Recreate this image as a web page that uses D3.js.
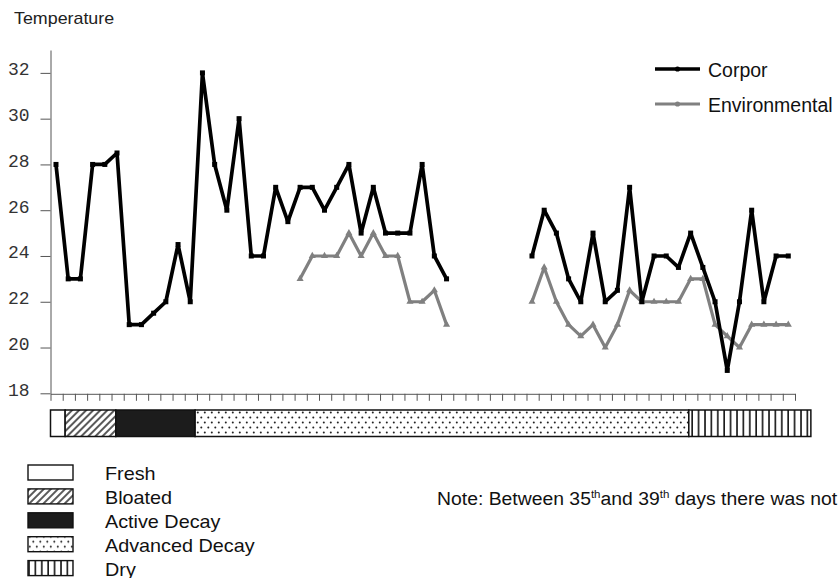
<!DOCTYPE html>
<html>
<head>
<meta charset="utf-8">
<script src="https://cdn.jsdelivr.net/npm/d3@7"></script>
<style>
  body { margin: 0; background: #fff; }
  svg { display: block; }
</style>
</head>
<body>
<div id="chart"></div>
<script>
// Data
const days = d3.range(0, 61)
const corpor = [28, 23, 23, 28, 28, 28.5, 21, 21, 21.5, 22, 24.5, 22, 32, 28, 26, 30, 24, 24, 27, 25.5,
  27, 27, 26, 27, 28, 25, 27, 25, 25, 25, 28, 24, 23,
  null, null, null, null, null, null,
  24, 26, 25, 23, 22, 25, 22, 22.5, 27, 22, 24, 24, 23.5, 25, 23.5, 22, 19, 22, 26, 22, 24, 24]
const environmental = [null, null, null, null, null, null, null, null, null, null,
  null, null, null, null, null, null, null, null, null, null,
  23, 24, 24, 24, 25, 24, 25, 24, 24, 22, 22, 22.5, 21,
  null, null, null, null, null, null,
  22, 23.5, 22, 21, 20.5, 21, 20, 21, 22.5, 22, 22, 22, 22, 23, 23, 21, 20.5, 20, 21, 21, 21, 21]
const yTicks = [18, 20, 22, 24, 26, 28, 30, 32]
const stageNames = ['Fresh', 'Bloated', 'Active Decay', 'Advanced Decay', 'Dry']
const stageStart = [0, 1.2, 5.35, 11.85, 52.3]
const stageEnd = [1.2, 5.35, 11.85, 52.3, 62.3]
const stageFill = ['#fff', 'url(#hatch)', '#1c1c1c', 'url(#dots)', 'url(#vlines)']

const width = 840, height = 578

const svg = d3.select('#chart').append('svg')
  .attr('width', width)
  .attr('height', height)

// patterns
const defs = svg.append('defs')
defs.append('pattern')
  .attr('id', 'hatch')
  .attr('patternUnits', 'userSpaceOnUse')
  .attr('width', 5).attr('height', 5)
  .attr('patternTransform', 'rotate(45)')
  .call(p => p.append('rect').attr('width', 5).attr('height', 5).attr('fill', '#fff'))
  .append('line')
  .attr('x1', 1).attr('x2', 1).attr('y1', 0).attr('y2', 5)
  .attr('stroke', '#222').attr('stroke-width', 1.5)

const dots = defs.append('pattern')
  .attr('id', 'dots')
  .attr('patternUnits', 'userSpaceOnUse')
  .attr('width', 7).attr('height', 10)
dots.append('rect').attr('width', 7).attr('height', 10).attr('fill', '#fff')
dots.append('circle').attr('cx', 1.8).attr('cy', 2.5).attr('r', 1).attr('fill', '#222')
dots.append('circle').attr('cx', 5.3).attr('cy', 7.5).attr('r', 1).attr('fill', '#222')

const vl = defs.append('pattern')
  .attr('id', 'vlines')
  .attr('patternUnits', 'userSpaceOnUse')
  .attr('width', 6.4).attr('height', 10)
vl.append('rect').attr('width', 6.4).attr('height', 10).attr('fill', '#fff')
vl.append('line').attr('x1', 1).attr('x2', 1).attr('y1', 0).attr('y2', 10)
  .attr('stroke', '#111').attr('stroke-width', 1.6)

// scales
const x = d3.scaleLinear().domain([0, 61]).range([50.5, 795])
const y = d3.scaleLinear().domain([18, 33]).range([393.3, 50])
const px = i => x(i + 0.45)

// title
svg.append('text')
  .attr('transform', 'translate(14,24) scale(1.05,1)')
  .attr('font-family', 'Liberation Sans, Arial, sans-serif')
  .attr('font-size', 17)
  .attr('fill', '#222')
  .text('Temperature')

// y axis
const yAxis = svg.append('g')
  .attr('transform', 'translate(50.5,0)')
  .call(d3.axisLeft(y).tickValues(yTicks).tickSize(10).tickSizeOuter(0).tickPadding(11))
yAxis.select('.domain').attr('stroke', '#555')
yAxis.selectAll('.tick line').attr('stroke', '#555')
yAxis.selectAll('.tick text')
  .attr('font-family', 'Liberation Mono, Courier New, monospace')
  .attr('font-size', 18)
  .attr('fill', '#333')
  .attr('dy', '0.1em')

// x axis
const xAxis = svg.append('g')
  .attr('transform', 'translate(0,393.8)')
  .call(d3.axisBottom(x).tickValues(d3.range(0, 62)).tickFormat('').tickSize(7).tickSizeOuter(0))
xAxis.select('.domain').attr('stroke', '#555')
xAxis.selectAll('.tick line').attr('stroke', '#555')

// lines
const line = d3.line()
  .defined(d => d[1] != null)
  .x(d => px(d[0]))
  .y(d => y(d[1]))

svg.append('path')
  .datum(days.map(i => [i, environmental[i]]))
  .attr('fill', 'none')
  .attr('stroke', '#808080')
  .attr('stroke-width', 3.2)
  .attr('stroke-linejoin', 'round')
  .attr('d', line)

svg.append('g')
  .selectAll('path')
  .data(days.filter(i => environmental[i] != null))
  .join('path')
  .attr('transform', i => `translate(${px(i)},${y(environmental[i])})`)
  .attr('d', d3.symbol(d3.symbolTriangle, 22))
  .attr('fill', '#808080')

svg.append('path')
  .datum(days.map(i => [i, corpor[i]]))
  .attr('fill', 'none')
  .attr('stroke', '#000')
  .attr('stroke-width', 3.7)
  .attr('stroke-linejoin', 'round')
  .attr('d', line)

svg.append('g')
  .selectAll('rect')
  .data(days.filter(i => corpor[i] != null))
  .join('rect')
  .attr('x', i => px(i) - 2.5)
  .attr('y', i => y(corpor[i]) - 2.5)
  .attr('width', 5)
  .attr('height', 5)
  .attr('fill', '#000')

// decomposition stage bar
svg.append('g')
  .selectAll('rect')
  .data(stageNames)
  .join('rect')
  .attr('x', (d, i) => x(stageStart[i]))
  .attr('y', 410)
  .attr('width', (d, i) => x(stageEnd[i]) - x(stageStart[i]))
  .attr('height', 26.5)
  .attr('fill', (d, i) => stageFill[i])
  .attr('stroke', '#111')
  .attr('stroke-width', 1.5)

// series legend
const series = [
  { name: 'Corpor', color: '#000', w: 3.7 },
  { name: 'Environmental', color: '#808080', w: 3.2 }
]
const lg = svg.append('g')
  .selectAll('g')
  .data(series)
  .join('g')
  .attr('transform', (d, i) => `translate(655,${69 + i * 35})`)
lg.append('line')
  .attr('x1', 0).attr('x2', 45)
  .attr('stroke', d => d.color)
  .attr('stroke-width', d => d.w)
lg.append('circle')
  .attr('cx', 22.5).attr('r', 2.6)
  .attr('fill', d => d.color)
lg.append('text')
  .attr('x', 53)
  .attr('y', 7.5)
  .attr('font-family', 'Liberation Sans, Arial, sans-serif')
  .attr('font-size', 19.5)
  .attr('fill', '#111')
  .text(d => d.name)

// stage legend
const sl = svg.append('g')
  .selectAll('g')
  .data(stageNames)
  .join('g')
  .attr('transform', (d, i) => `translate(28,${472.5 + i * 23.9})`)
sl.append('rect')
  .attr('x', 0).attr('y', -7.5)
  .attr('width', 45).attr('height', 15)
  .attr('fill', (d, i) => stageFill[i])
  .attr('stroke', '#111')
  .attr('stroke-width', 1.4)
sl.append('text')
  .attr('transform', 'translate(77,7.5) scale(1.1,1)')
  .attr('font-family', 'Liberation Sans, Arial, sans-serif')
  .attr('font-size', 18)
  .attr('fill', '#111')
  .text(d => d)

// note
const note = svg.append('text')
  .attr('transform', 'translate(437,505) scale(1.1,1)')
  .attr('font-family', 'Liberation Sans, Arial, sans-serif')
  .attr('font-size', 17.6)
  .attr('fill', '#111')
note.append('tspan').text('Note: Between 35')
note.append('tspan').attr('font-size', 10.5).attr('dy', -7.5).text('th')
note.append('tspan').attr('dy', 7.5).text('and 39')
note.append('tspan').attr('font-size', 10.5).attr('dy', -7.5).text('th')
note.append('tspan').attr('dy', 7.5).text(' days there was not')
</script>
</body>
</html>
